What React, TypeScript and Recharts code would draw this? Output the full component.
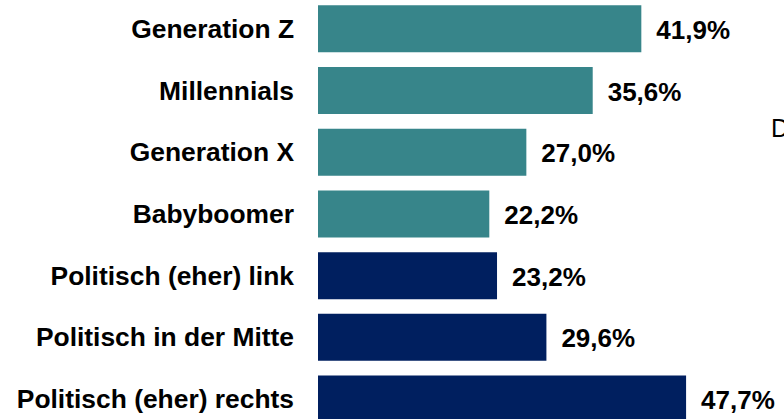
import { Bar, BarChart, Cell, LabelList, XAxis, YAxis } from 'recharts';

const TEAL = '#37858A';
const NAVY = '#001F5F';

const categories = [
  'Generation Z',
  'Millennials',
  'Generation X',
  'Babyboomer',
  'Politisch (eher) link',
  'Politisch in der Mitte',
  'Politisch (eher) rechts',
];
const values = [41.9, 35.6, 27.0, 22.2, 23.2, 29.6, 47.7];
const groups = ['gen', 'gen', 'gen', 'gen', 'pol', 'pol', 'pol'];

const data = categories.map((name, i) => ({ name, value: values[i], group: groups[i] }));

const FONT = 'Arial, "Liberation Sans", sans-serif';

function CategoryTick({ x, y, payload }: any) {
  return (
    <text
      x={x - 16}
      y={y}
      dy={9}
      textAnchor="end"
      fontFamily={FONT}
      fontWeight="bold"
      fontSize={26.4}
      fill="#000"
    >
      {payload.value}
    </text>
  );
}

function ValueLabel({ x, y, width, height, value }: any) {
  return (
    <text
      x={x + width + 15}
      y={y + height / 2}
      dy={10}
      textAnchor="start"
      fontFamily={FONT}
      fontWeight="bold"
      fontSize={26}
      fill="#000"
    >
      {Number(value).toFixed(1).replace('.', ',')}%
    </text>
  );
}

export default function App() {
  return (
    <div
      style={{
        position: 'absolute',
        top: 0,
        left: 0,
        width: 784,
        height: 419,
        overflow: 'hidden',
        background: '#fff',
      }}
    >
      <div style={{ position: 'absolute', top: -2, left: 0 }}>
        <BarChart
          width={784}
          height={432}
          data={data}
          layout="vertical"
          barCategoryGap={7.3}
          margin={{ top: 0, right: 3, bottom: 0, left: 0 }}
        >
          <XAxis type="number" domain={[0, 60]} hide />
          <YAxis
            type="category"
            dataKey="name"
            width={318}
            axisLine={false}
            tickLine={false}
            tick={<CategoryTick />}
            interval={0}
          />
          <Bar dataKey="value" isAnimationActive={false}>
            {data.map((d) => (
              <Cell key={d.name} fill={d.group === 'gen' ? TEAL : NAVY} />
            ))}
            <LabelList dataKey="value" content={<ValueLabel />} />
          </Bar>
        </BarChart>
      </div>
      <span
        style={{
          position: 'absolute',
          left: 771,
          top: 114,
          fontFamily: FONT,
          fontSize: 25,
          color: '#000',
        }}
      >
        D
      </span>
    </div>
  );
}
